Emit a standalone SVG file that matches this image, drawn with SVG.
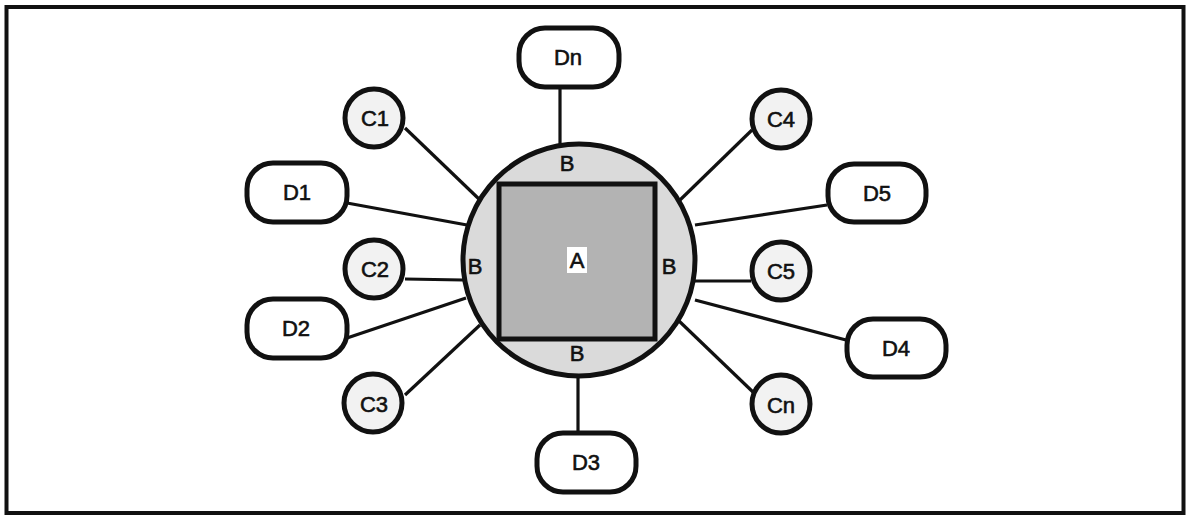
<svg xmlns="http://www.w3.org/2000/svg" width="1188" height="516" viewBox="0 0 1188 516">
<style>
.lbl{font-family:"Liberation Sans",Arial,sans-serif;font-size:22px;fill:#111;stroke:#111;stroke-width:0.6;text-anchor:middle;dominant-baseline:central}
.c{fill:#f2f2f2;stroke:#111;stroke-width:5}
.d{fill:#ffffff;stroke:#111;stroke-width:5}
.ln{stroke:#111;stroke-width:3.2;fill:none}
</style>
<rect x="6.5" y="7" width="1177" height="506" fill="#fff" stroke="#111" stroke-width="4"/>
<g id="connectors">
<line class="ln" x1="560" y1="88" x2="560" y2="145"/>
<line class="ln" x1="405" y1="128" x2="480" y2="200"/>
<line class="ln" x1="347" y1="203" x2="467" y2="225"/>
<line class="ln" x1="405" y1="279" x2="463" y2="280"/>
<line class="ln" x1="347" y1="338" x2="466" y2="298"/>
<line class="ln" x1="405" y1="395" x2="480" y2="325"/>
<line class="ln" x1="578" y1="376" x2="578" y2="432"/>
<line class="ln" x1="752" y1="130" x2="680" y2="200"/>
<line class="ln" x1="827" y1="205" x2="695" y2="225"/>
<line class="ln" x1="695" y1="281" x2="751" y2="281"/>
<line class="ln" x1="695" y1="300" x2="846" y2="340"/>
<line class="ln" x1="678" y1="320" x2="754" y2="393"/>
</g>
<g id="B">
<circle cx="579" cy="260" r="116" fill="#dadada" stroke="#111" stroke-width="5"/>
<text class="lbl" x="567" y="163">B</text>
<text class="lbl" x="475" y="266">B</text>
<text class="lbl" x="669" y="266">B</text>
<text class="lbl" x="577" y="353">B</text>
</g>
<g id="A">
<rect x="499" y="184" width="156" height="155" fill="#b3b3b3" stroke="#111" stroke-width="5"/>
<rect x="567" y="247" width="20" height="26" fill="#fff"/>
<text class="lbl" x="577" y="260">A</text>
</g>
<g id="Dn"><rect class="d" x="519" y="28" width="100" height="59" rx="26"/><text class="lbl" x="568" y="57">Dn</text></g>
<g id="C1"><circle class="c" cx="374" cy="118" r="29"/><text class="lbl" x="375" y="118">C1</text></g>
<g id="D1"><rect class="d" x="247" y="163" width="100" height="59" rx="26"/><text class="lbl" x="297" y="192">D1</text></g>
<g id="C2"><circle class="c" cx="374" cy="269" r="29"/><text class="lbl" x="375" y="269">C2</text></g>
<g id="D2"><rect class="d" x="247" y="299" width="100" height="59" rx="26"/><text class="lbl" x="296" y="328">D2</text></g>
<g id="C3"><circle class="c" cx="373" cy="403" r="29"/><text class="lbl" x="374" y="404">C3</text></g>
<g id="D3"><rect class="d" x="537" y="433" width="99" height="59" rx="26"/><text class="lbl" x="586" y="462">D3</text></g>
<g id="C4"><circle class="c" cx="781" cy="119" r="29"/><text class="lbl" x="781" y="119">C4</text></g>
<g id="D5"><rect class="d" x="828" y="164" width="98" height="58" rx="26"/><text class="lbl" x="877" y="193">D5</text></g>
<g id="C5"><circle class="c" cx="781" cy="271" r="29"/><text class="lbl" x="781" y="271">C5</text></g>
<g id="D4"><rect class="d" x="847" y="319" width="99" height="58" rx="26"/><text class="lbl" x="896" y="348">D4</text></g>
<g id="Cn"><circle class="c" cx="781" cy="404" r="29"/><text class="lbl" x="781" y="405">Cn</text></g>
</svg>
